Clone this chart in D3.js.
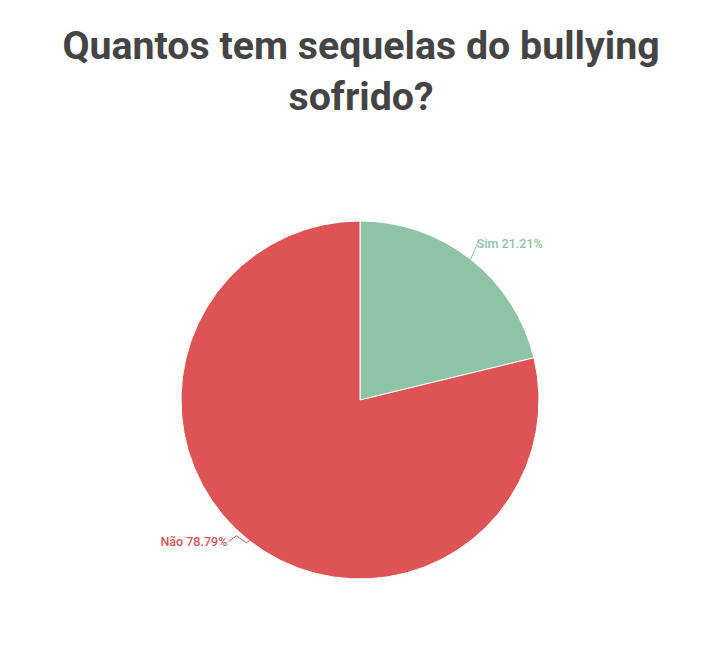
<!DOCTYPE html>
<html><head><meta charset="utf-8">
<script src="https://cdn.jsdelivr.net/npm/d3@7"></script>
<style>html,body{margin:0;padding:0;background:#fff;}</style>
</head><body>
<svg id="c" width="722" height="667"></svg>
<script>
const titleLines = ["Quantos tem sequelas do bullying", "sofrido?"];
const categories = ["Sim", "Não"];
const values = [21.21, 78.79];
const colors = ["#8fc3a6", "#dd5356"];

const svg = d3.select("#c");
const W = 722, cx = 360, cy = 400, R = 179;

svg.append("text").attr("x", W/2).attr("y", 59).attr("text-anchor","middle")
  .attr("font-family","Roboto").attr("font-weight","bold").attr("font-size",39.3)
  .attr("fill","#444").text(titleLines[0]);
svg.append("text").attr("x", W/2).attr("y", 110).attr("text-anchor","middle")
  .attr("font-family","Roboto").attr("font-weight","bold").attr("font-size",39.3)
  .attr("fill","#444").text(titleLines[1]);

const data = categories.map((c,i)=>({cat:c, value:values[i], color:colors[i]}));
const pie = d3.pie().value(d=>d.value).sort(null);
const arcs = pie(data);
const arc = d3.arc().innerRadius(0).outerRadius(R);
const g = svg.append("g").attr("transform",`translate(${cx},${cy})`);
g.selectAll("path").data(arcs).enter().append("path")
  .attr("d", arc).attr("fill", d=>d.data.color)
  .attr("stroke","#fff").attr("stroke-width",1);

function pt(a, r){ return [r*Math.sin(a), -r*Math.cos(a)]; }

arcs.forEach((d,i)=>{
  const mid = (d.startAngle + d.endAngle)/2;
  const p0 = pt(mid, R);
  const label = `${d.data.cat} ${d.data.value.toFixed(2)}%`;
  let pts, tx, ty, anchor;
  if (Math.sin(mid) >= 0) {
    const p1 = pt(mid - 0.025, R + 18);
    pts = [p0, p1];
    tx = p1[0] - 1; ty = p1[1] + 6; anchor = "start";
  } else {
    const p1 = [p0[0] - 3, p0[1] + 2];
    const p2 = [p0[0] - 13, p0[1] - 5];
    const p3 = [p0[0] - 21, p0[1] + 1];
    pts = [p0, p1, p2, p3];
    tx = p3[0] - 1; ty = p3[1] + 4; anchor = "end";
  }
  g.append("polyline").attr("points", pts.map(p=>p.join(",")).join(" "))
    .attr("fill","none").attr("stroke", d.data.color).attr("stroke-width",1);
  g.append("text").attr("x", tx).attr("y", ty).attr("text-anchor", anchor)
    .attr("font-family","Roboto").attr("font-weight",500).attr("font-size",12.5)
    .attr("fill", d.data.color).text(label);
});
</script>
</body></html>
